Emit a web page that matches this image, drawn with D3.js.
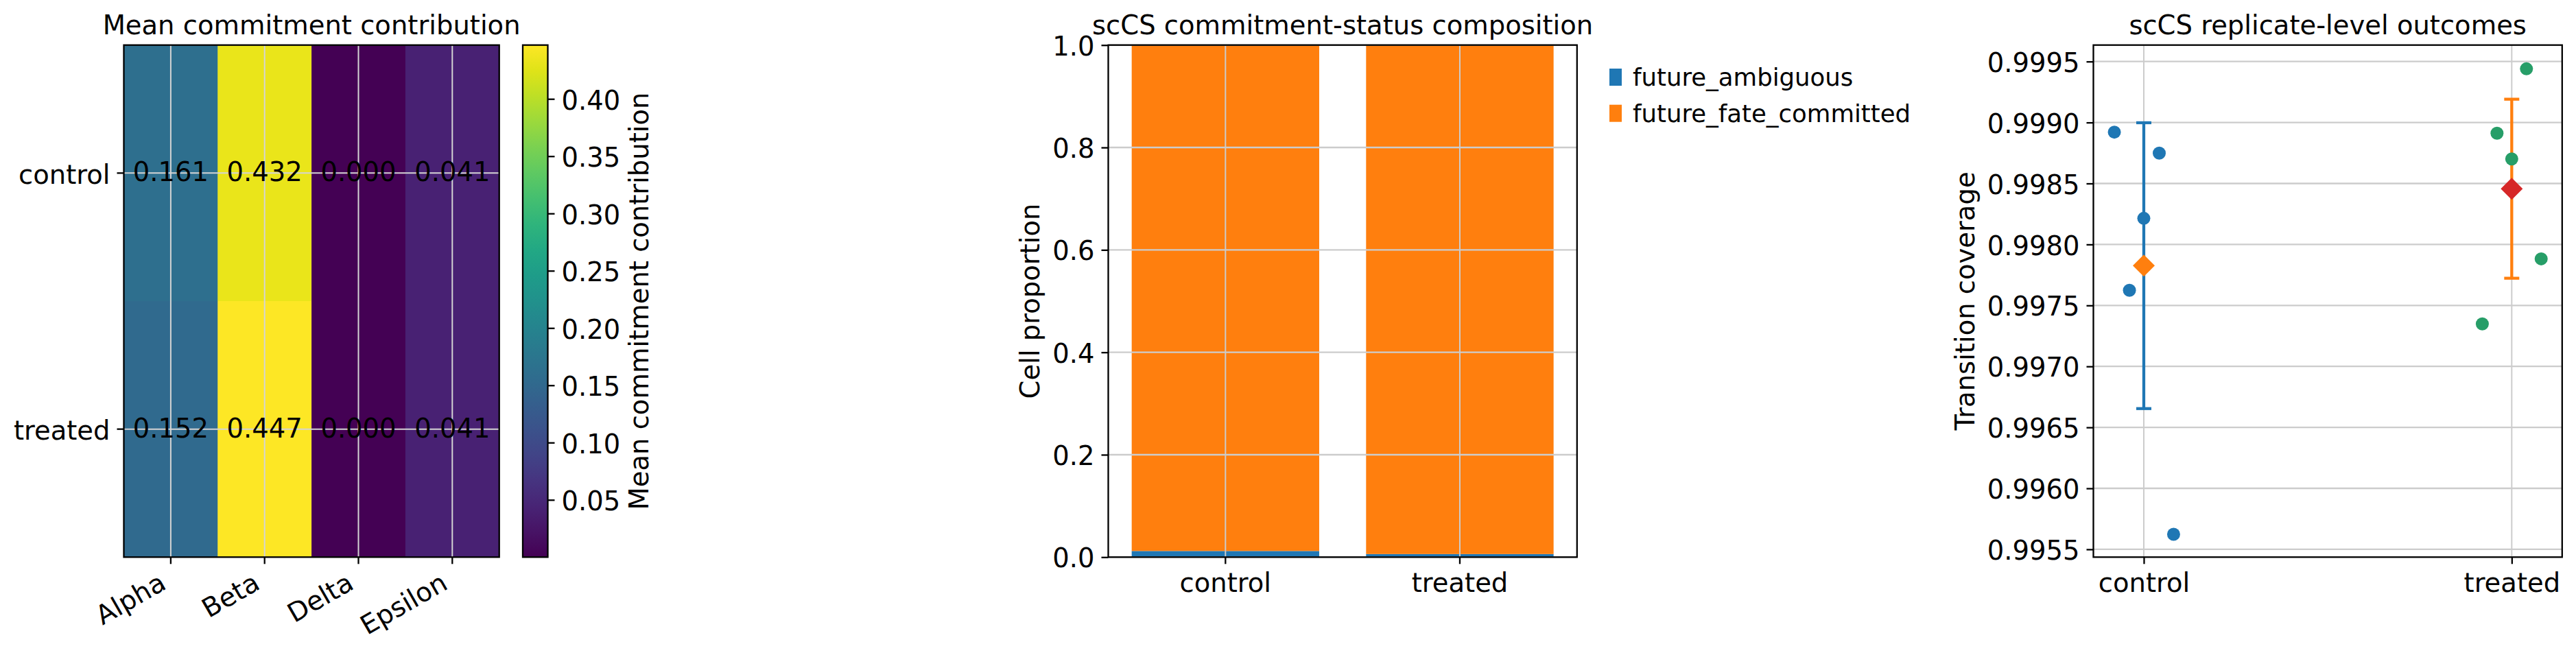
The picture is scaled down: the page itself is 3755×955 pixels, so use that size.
<!DOCTYPE html>
<html lang="en">
<head>
<meta charset="UTF-8">
<title>scCS commitment summary</title>
<script src="https://d3js.org/d3.v7.min.js"></script>
<style>
  body { margin: 0; background: #fff; }
  svg text { font-family: "DejaVu Sans", sans-serif; fill: #000; }
</style>
</head>
<body>
<div id="chart"></div>
<script>
const width = 3755, height = 955;
const plotTop = 65.7, plotBottom = 812.3;
const gridColor = "#cccccc";
const fontSize = 38.5;

// --- heatmap data
const conditions = ["control", "treated"];
const cellTypes = ["Alpha", "Beta", "Delta", "Epsilon"];
const controlContribution = [0.161, 0.432, 0.000, 0.041];
const treatedContribution = [0.152, 0.447, 0.000, 0.041];
const colorbarTicks = [0.05, 0.10, 0.15, 0.20, 0.25, 0.30, 0.35, 0.40];

// --- composition data
const statuses = ["future_ambiguous", "future_fate_committed"];
const statusColors = ["#1f77b4", "#ff7f0e"];
const ambiguousShare = [0.012, 0.006];
const committedShare = [0.988, 0.994];
const proportionTicks = [0, 0.2, 0.4, 0.6, 0.8, 1.0];

// --- replicate outcomes
const controlCoverage = [0.998921, 0.998749, 0.998214, 0.997624, 0.995623];
const treatedCoverage = [0.999440, 0.998912, 0.998701, 0.997882, 0.997348];
const controlJitter = [-0.080, 0.042, 0.000, -0.039, 0.081];
const treatedJitter = [0.040, -0.040, 0.000, 0.080, -0.080];
const coverageMean = [0.997826, 0.998457];
const coverageSd = [0.001172, 0.000734];
const coverageTicks = [0.9955, 0.9960, 0.9965, 0.9970, 0.9975, 0.9980, 0.9985, 0.9990, 0.9995];

const svg = d3.select("#chart").append("svg")
    .attr("width", width)
    .attr("height", height);

function styleAxis(g) {
    g.attr("font-family", "DejaVu Sans").attr("font-size", fontSize);
    g.select(".domain").remove();
    g.selectAll(".tick line").attr("stroke", "#000").attr("stroke-width", 2.3);
}

function frame(x0, x1) {
    svg.append("rect")
        .attr("x", x0).attr("y", plotTop)
        .attr("width", x1 - x0).attr("height", plotBottom - plotTop)
        .attr("fill", "none").attr("stroke", "#000").attr("stroke-width", 2.3);
}

function title(text, cx) {
    svg.append("text")
        .attr("x", cx).attr("y", 50)
        .attr("text-anchor", "middle")
        .attr("font-size", fontSize)
        .text(text);
}

function yLabel(text, x, rot) {
    svg.append("text")
        .attr("transform", `translate(${x},${(plotTop + plotBottom) / 2}) rotate(${rot})`)
        .attr("text-anchor", "middle")
        .attr("font-size", fontSize)
        .text(text);
}

// ================= Panel 1: heatmap =================
const hx = d3.scaleBand().domain(cellTypes).range([180.5, 727.7]);
const hy = d3.scaleBand().domain(conditions).range([plotTop, plotBottom]);
const vmax = d3.max(controlContribution.concat(treatedContribution));
const color = d3.scaleSequential(d3.interpolateViridis).domain([0, vmax]);

const heatRows = [controlContribution, treatedContribution];
const cells = [];
heatRows.forEach((row, r) => row.forEach((v, c) => cells.push({ cond: conditions[r], type: cellTypes[c], v: v })));

svg.append("g").selectAll("rect")
    .data(cells)
    .join("rect")
    .attr("x", d => hx(d.type))
    .attr("y", d => hy(d.cond))
    .attr("width", hx.bandwidth() + 0.5)
    .attr("height", hy.bandwidth() + 0.5)
    .attr("fill", d => color(d.v));

// grid lines over the image
svg.append("g").selectAll("line")
    .data(cellTypes)
    .join("line")
    .attr("x1", d => hx(d) + hx.bandwidth() / 2).attr("x2", d => hx(d) + hx.bandwidth() / 2)
    .attr("y1", plotTop).attr("y2", plotBottom)
    .attr("stroke", "#d4d4d4").attr("stroke-width", 2);
svg.append("g").selectAll("line")
    .data(conditions)
    .join("line")
    .attr("x1", 180.5).attr("x2", 727.7)
    .attr("y1", d => hy(d) + hy.bandwidth() / 2).attr("y2", d => hy(d) + hy.bandwidth() / 2)
    .attr("stroke", "#d4d4d4").attr("stroke-width", 2);

svg.append("g").selectAll("text")
    .data(cells)
    .join("text")
    .attr("x", d => hx(d.type) + hx.bandwidth() / 2)
    .attr("y", d => hy(d.cond) + hy.bandwidth() / 2)
    .attr("dy", "0.31em")
    .attr("text-anchor", "middle")
    .attr("font-size", fontSize)
    .text(d => d3.format(".3f")(d.v));

frame(180.5, 727.7);

svg.append("g")
    .attr("transform", "translate(180.5,0)")
    .call(d3.axisLeft(hy).tickSize(10).tickPadding(10))
    .call(styleAxis)
    .selectAll("text").attr("dy", "0.4em");

svg.append("g")
    .attr("transform", `translate(0,${plotBottom})`)
    .call(d3.axisBottom(hx).tickSize(10).tickPadding(10))
    .call(styleAxis)
    .selectAll("text")
    .attr("y", null).attr("dy", null)
    .attr("text-anchor", "end")
    .attr("transform", "translate(-4.5,45) rotate(-30)");

title("Mean commitment contribution", (180.5 + 727.7) / 2);

// colorbar
const cbX0 = 762, cbX1 = 798.5;
const cbScale = d3.scaleLinear().domain([0, vmax]).range([plotBottom, plotTop]);
const grad = svg.append("defs").append("linearGradient")
    .attr("id", "viridis").attr("x1", 0).attr("y1", 1).attr("x2", 0).attr("y2", 0);
grad.selectAll("stop")
    .data(d3.range(0, 1.0001, 0.05))
    .join("stop")
    .attr("offset", d => d)
    .attr("stop-color", d => d3.interpolateViridis(d));
svg.append("rect")
    .attr("x", cbX0).attr("y", plotTop)
    .attr("width", cbX1 - cbX0).attr("height", plotBottom - plotTop)
    .attr("fill", "url(#viridis)")
    .attr("stroke", "#000").attr("stroke-width", 2.3);
svg.append("g")
    .attr("transform", `translate(${cbX1},0)`)
    .call(d3.axisRight(cbScale).tickValues(colorbarTicks).tickFormat(d3.format(".2f")).tickSize(10).tickPadding(10))
    .call(styleAxis)
    .selectAll("text").attr("dy", "0.39em");
yLabel("Mean commitment contribution", 945, -90);

// ================= Panel 2: stacked bars =================
const bx = d3.scaleBand().domain(conditions).range([1615.5, 2298.8]).paddingInner(0.2).paddingOuter(0.1);
const by = d3.scaleLinear().domain([0, 1]).range([plotBottom, plotTop]);

const stackRows = conditions.map((c, i) => ({ cond: c, future_ambiguous: ambiguousShare[i], future_fate_committed: committedShare[i] }));
const stacked = d3.stack().keys(statuses)(stackRows);

svg.append("g").selectAll("g")
    .data(stacked)
    .join("g")
    .attr("fill", (d, i) => statusColors[i])
    .selectAll("rect")
    .data(d => d)
    .join("rect")
    .attr("x", d => bx(d.data.cond))
    .attr("y", d => by(d[1]))
    .attr("width", bx.bandwidth())
    .attr("height", d => by(d[0]) - by(d[1]));

svg.append("g").selectAll("line")
    .data(proportionTicks)
    .join("line")
    .attr("x1", 1615.5).attr("x2", 2298.8)
    .attr("y1", d => by(d)).attr("y2", d => by(d))
    .attr("stroke", gridColor).attr("stroke-width", 2.3);
svg.append("g").selectAll("line")
    .data(conditions)
    .join("line")
    .attr("x1", d => bx(d) + bx.bandwidth() / 2).attr("x2", d => bx(d) + bx.bandwidth() / 2)
    .attr("y1", plotTop).attr("y2", plotBottom)
    .attr("stroke", gridColor).attr("stroke-width", 2);

frame(1615.5, 2298.8);

svg.append("g")
    .attr("transform", "translate(1615.5,0)")
    .call(d3.axisLeft(by).tickValues(proportionTicks).tickFormat(d3.format(".1f")).tickSize(10).tickPadding(10))
    .call(styleAxis)
    .selectAll("text").attr("dy", "0.38em");
svg.append("g")
    .attr("transform", `translate(0,${plotBottom})`)
    .call(d3.axisBottom(bx).tickSize(10).tickPadding(13))
    .call(styleAxis);

title("scCS commitment-status composition", (1615.5 + 2298.8) / 2);
yLabel("Cell proportion", 1515, -90);

const legend = svg.append("g").selectAll("g")
    .data(statuses)
    .join("g")
    .attr("transform", (d, i) => `translate(2346,${100 + i * 52.7})`);
legend.append("rect")
    .attr("width", 18).attr("height", 25)
    .attr("fill", (d, i) => statusColors[i]);
legend.append("text")
    .attr("x", 34).attr("y", 25)
    .attr("font-size", 35.5)
    .text(d => d);

// ================= Panel 3: replicate outcomes =================
const px = d3.scaleLinear().domain([-0.137, 1.137]).range([3051.5, 3734.8]);
const py = d3.scaleLinear().domain([0.995436, 0.999635]).range([plotBottom, plotTop]);
const pointColors = ["#1f77b4", "#279e68"];
const meanColors = ["#ff7f0e", "#d62728"];
const barColors = ["#1f77b4", "#ff7f0e"];

svg.append("g").selectAll("line")
    .data(coverageTicks)
    .join("line")
    .attr("x1", 3051.5).attr("x2", 3734.8)
    .attr("y1", d => py(d)).attr("y2", d => py(d))
    .attr("stroke", gridColor).attr("stroke-width", 2.3);
svg.append("g").selectAll("line")
    .data(conditions)
    .join("line")
    .attr("x1", (d, i) => px(i)).attr("x2", (d, i) => px(i))
    .attr("y1", plotTop).attr("y2", plotBottom)
    .attr("stroke", gridColor).attr("stroke-width", 2);

// error bars (mean +/- sd)
const eb = svg.append("g").selectAll("g")
    .data(conditions)
    .join("g")
    .attr("stroke", (d, i) => barColors[i])
    .attr("stroke-width", 4.3);
eb.append("line")
    .attr("x1", (d, i) => px(i)).attr("x2", (d, i) => px(i))
    .attr("y1", (d, i) => py(coverageMean[i] - coverageSd[i]))
    .attr("y2", (d, i) => py(coverageMean[i] + coverageSd[i]));
[-1, 1].forEach(s => {
    eb.append("line")
        .attr("x1", (d, i) => px(i) - 11).attr("x2", (d, i) => px(i) + 11)
        .attr("y1", (d, i) => py(coverageMean[i] + s * coverageSd[i]))
        .attr("y2", (d, i) => py(coverageMean[i] + s * coverageSd[i]));
});

const points = [];
controlCoverage.forEach((v, j) => points.push({ g: 0, x: 0 + controlJitter[j], v: v }));
treatedCoverage.forEach((v, j) => points.push({ g: 1, x: 1 + treatedJitter[j], v: v }));

svg.append("g").selectAll("circle")
    .data(points)
    .join("circle")
    .attr("cx", d => px(d.x))
    .attr("cy", d => py(d.v))
    .attr("r", 9.5)
    .attr("fill", d => pointColors[d.g]);

svg.append("g").selectAll("path")
    .data(coverageMean)
    .join("path")
    .attr("transform", (d, i) => `translate(${px(i)},${py(d)})`)
    .attr("d", "M0,-16L16,0L0,16L-16,0Z")
    .attr("fill", (d, i) => meanColors[i]);

frame(3051.5, 3734.8);

svg.append("g")
    .attr("transform", "translate(3051.5,0)")
    .call(d3.axisLeft(py).tickValues(coverageTicks).tickFormat(d3.format(".4f")).tickSize(10).tickPadding(10))
    .call(styleAxis)
    .selectAll("text").attr("dy", "0.38em");
svg.append("g")
    .attr("transform", `translate(0,${plotBottom})`)
    .call(d3.axisBottom(px).tickValues([0, 1]).tickFormat((d, i) => conditions[i]).tickSize(10).tickPadding(13))
    .call(styleAxis);

title("scCS replicate-level outcomes", (3051.5 + 3734.8) / 2);
yLabel("Transition coverage", 2878, -90);
</script>
</body>
</html>
